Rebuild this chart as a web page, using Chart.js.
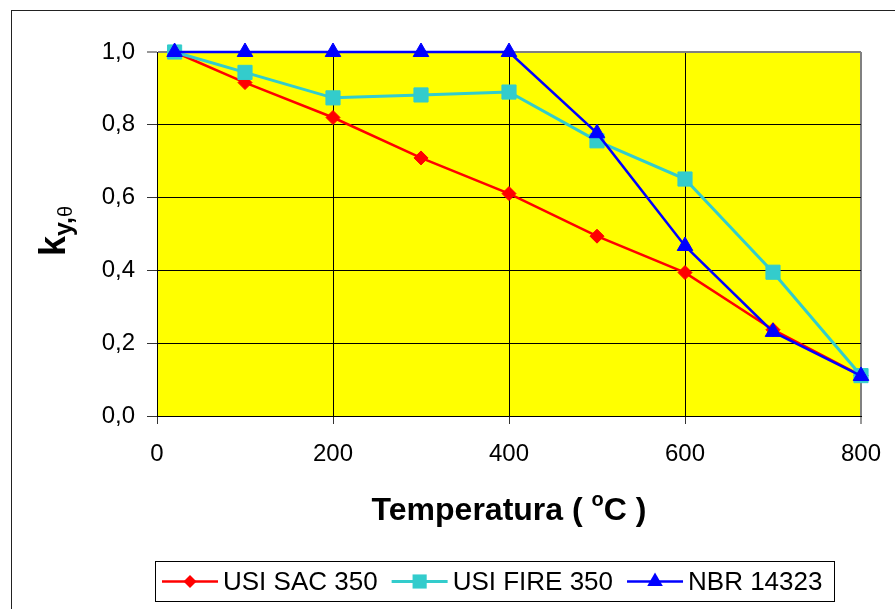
<!DOCTYPE html>
<html>
<head>
<meta charset="utf-8">
<script src="https://cdn.jsdelivr.net/npm/chart.js@4.4.0/dist/chart.umd.min.js"></script>
<style>
  html, body { margin: 0; padding: 0; background: #fff; }
  #wrap { width: 895px; height: 609px; position: relative; }
</style>
</head>
<body>
<div id="wrap"><canvas id="c" width="895" height="609"></canvas></div>
<script>
// ---- data ----
const temps = [20, 100, 200, 300, 400, 500, 600, 700, 800];
const usiSac350 = [1.0, 0.916, 0.820, 0.709, 0.611, 0.494, 0.394, 0.237, 0.111];
const usiFire350 = [1.0, 0.944, 0.874, 0.882, 0.890, 0.756, 0.651, 0.395, 0.111];
const nbr14323 = [1.0, 1.0, 1.0, 1.0, 1.0, 0.777, 0.467, 0.231, 0.110];
const seriesLabels = ['USI SAC 350', 'USI FIRE 350', 'NBR 14323'];
const xTicks = [0, 200, 400, 600, 800];
const yTicks = [0.0, 0.2, 0.4, 0.6, 0.8, 1.0];
const xTitleParts = ['Temperatura ( ', 'o', 'C )'];
const yTitleParts = ['k', 'y,', 'θ'];

const FONT = '"Liberation Sans", Arial, sans-serif';
const colors = ['#FF0000', '#33CCCC', '#0000FF'];
const styles = ['rectRot', 'rect', 'triangle'];
const radii = [7, 10, 9];

function pts(arr) { return temps.map((t, i) => ({ x: t, y: arr[i] })); }

const allSeries = [usiSac350, usiFire350, nbr14323];
const datasets = allSeries.map((s, i) => ({
  label: seriesLabels[i],
  data: pts(s),
  borderColor: colors[i],
  backgroundColor: colors[i],
  borderWidth: i === 1 ? 3 : 2.5,
  pointStyle: styles[i],
  pointRadius: radii[i],
  pointHoverRadius: radii[i],
  pointBorderWidth: 1,
  pointBorderColor: colors[i],
  pointBackgroundColor: colors[i],
  tension: 0,
  clip: false,
  order: 2 - i
}));

const bgPlugin = {
  id: 'bg',
  beforeDraw(chart) {
    const { ctx, chartArea: a } = chart;
    ctx.save();
    ctx.fillStyle = '#FFFFFF';
    ctx.fillRect(0, 0, chart.width, chart.height);
    ctx.strokeStyle = '#222';
    ctx.lineWidth = 1;
    ctx.strokeRect(11.5, 10.5, 1000, 1000);
    ctx.fillStyle = '#FFFF00';
    ctx.fillRect(a.left, a.top, a.right - a.left, a.bottom - a.top);
    ctx.restore();
  }
};

function drawMarker(ctx, style, x, y, r, color) {
  ctx.fillStyle = color;
  ctx.beginPath();
  if (style === 'rectRot') {
    ctx.moveTo(x - r, y); ctx.lineTo(x, y - r); ctx.lineTo(x + r, y); ctx.lineTo(x, y + r);
  } else if (style === 'rect') {
    const s = r * Math.SQRT1_2;
    ctx.rect(x - s, y - s, 2 * s, 2 * s);
  } else {
    ctx.moveTo(x, y - r);
    ctx.lineTo(x + r * Math.sin(2 * Math.PI / 3), y - r * Math.cos(2 * Math.PI / 3));
    ctx.lineTo(x + r * Math.sin(4 * Math.PI / 3), y - r * Math.cos(4 * Math.PI / 3));
  }
  ctx.closePath();
  ctx.fill();
}

const textPlugin = {
  id: 'texts',
  afterDraw(chart) {
    const { ctx, chartArea: a } = chart;
    ctx.save();
    ctx.fillStyle = '#000';
    ctx.textBaseline = 'alphabetic';
    ctx.textAlign = 'left';
    // X title
    const f1 = 'bold 32px ' + FONT, f2 = 'bold 20px ' + FONT;
    ctx.font = f1; const w1 = ctx.measureText(xTitleParts[0]).width;
    ctx.font = f2; const w2 = ctx.measureText(xTitleParts[1]).width;
    ctx.font = f1; const w3 = ctx.measureText(xTitleParts[2]).width;
    let x = (a.left + a.right) / 2 - (w1 + w2 + w3) / 2;
    const by = 520;
    ctx.font = f1; ctx.fillText(xTitleParts[0], x, by);
    ctx.font = f2; ctx.fillText(xTitleParts[1], x + w1, by - 14);
    ctx.font = f1; ctx.fillText(xTitleParts[2], x + w1 + w2, by);

    // Y title (rotated)
    ctx.save();
    ctx.translate(65, 231);
    ctx.rotate(-Math.PI / 2);
    const g1 = 'bold 36px ' + FONT, g2 = 'bold 25px ' + FONT, g3 = '20px ' + FONT;
    ctx.font = g1; const k1 = ctx.measureText(yTitleParts[0]).width;
    ctx.font = g2; const k2 = ctx.measureText(yTitleParts[1]).width;
    ctx.font = g3; const k3 = ctx.measureText(yTitleParts[2]).width;
    let sx = -(k1 + k2 + k3) / 2;
    ctx.font = g1; ctx.fillText(yTitleParts[0], sx, 0);
    ctx.font = g2; ctx.fillText(yTitleParts[1], sx + k1, 7);
    ctx.font = g3; ctx.fillText(yTitleParts[2], sx + k1 + k2, 7);
    ctx.restore();

    // Legend
    const lf = '26px ' + FONT;
    ctx.font = lf;
    ctx.strokeStyle = '#000';
    ctx.lineWidth = 1;
    ctx.strokeRect(155.5, 561.5, 679, 40);
    let lx = 162;
    const ly = 581.5;
    chart.data.datasets.forEach((ds, i) => {
      ctx.strokeStyle = ds.borderColor;
      ctx.lineWidth = ds.borderWidth;
      ctx.beginPath(); ctx.moveTo(lx, ly); ctx.lineTo(lx + 56, ly); ctx.stroke();
      drawMarker(ctx, ds.pointStyle, lx + 28, ly, i === 0 ? 6.5 : (i === 1 ? 10 : 9), ds.borderColor);
      ctx.fillStyle = '#000';
      ctx.textBaseline = 'middle';
      ctx.font = lf;
      ctx.fillText(ds.label, lx + 61, ly + 1);
      lx = lx + 61 + ctx.measureText(ds.label).width + 14;
    });
    ctx.restore();
  }
};

new Chart(document.getElementById('c'), {
  type: 'line',
  data: { datasets },
  options: {
    responsive: false,
    animation: false,
    events: [],
    layout: { padding: { top: 52, right: 34, left: 0, bottom: 0 } },
    plugins: { legend: { display: false }, tooltip: { enabled: false }, title: { display: false } },
    scales: {
      x: {
        type: 'linear',
        min: 0, max: 800,
        afterFit(s) { s.height = 193; s.paddingRight = 0; s.paddingLeft = 0; },
        afterBuildTicks(s) { s.ticks = xTicks.map(v => ({ value: v })); },
        ticks: { autoSkip: false, maxRotation: 0, color: '#000', font: { family: FONT, size: 24 }, padding: 16 },
        grid: {
          color: c => (c.tick && c.tick.value === 800) ? '#808080' : '#000',
          lineWidth: c => (c.tick && c.tick.value === 800) ? 2 : 1,
          tickColor: '#333', tickWidth: 1, tickLength: 8
        },
        border: { color: '#000', width: 1 }
      },
      y: {
        type: 'linear',
        min: 0, max: 1,
        afterFit(s) { s.width = 157; s.paddingTop = 0; s.paddingBottom = 0; },
        afterBuildTicks(s) { s.ticks = yTicks.map(v => ({ value: v })); },
        ticks: {
          color: '#000', font: { family: FONT, size: 24 }, padding: 12,
          callback: v => Number(v).toFixed(1).replace('.', ',')
        },
        grid: {
          color: c => (c.tick && Math.abs(c.tick.value - 1) < 1e-9) ? '#808080' : '#000',
          lineWidth: c => (c.tick && Math.abs(c.tick.value - 1) < 1e-9) ? 2 : 1,
          tickColor: '#333', tickWidth: 1, tickLength: 10
        },
        border: { color: '#000', width: 1 }
      }
    }
  },
  plugins: [bgPlugin, textPlugin]
});
</script>
</body>
</html>
